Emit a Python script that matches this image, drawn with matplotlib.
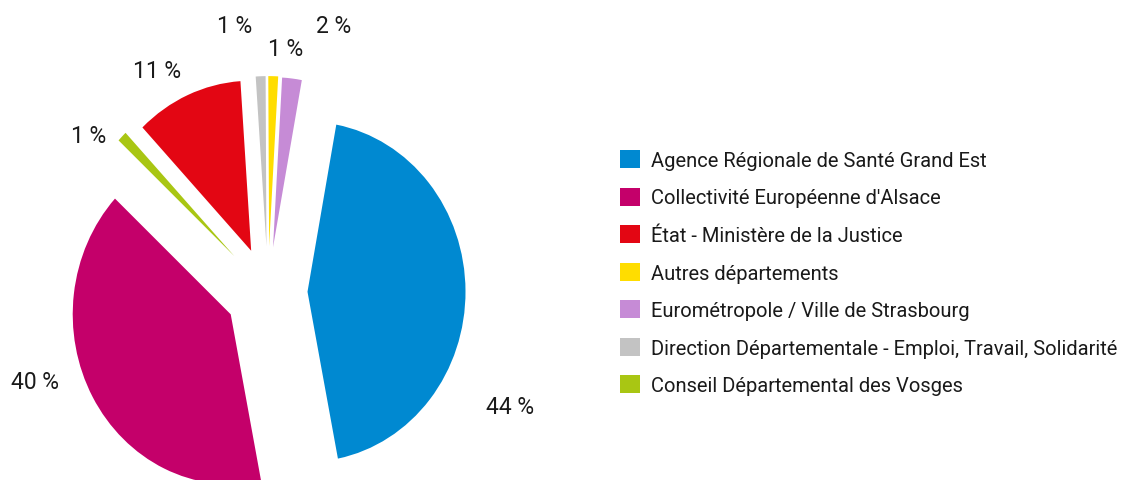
import matplotlib
matplotlib.use("Agg")
import matplotlib.pyplot as plt

# pie order (clockwise from the top)
names = [
    "Agence Régionale de Santé Grand Est",
    "Collectivité Européenne d'Alsace",
    "Conseil Départemental des Vosges",
    "État - Ministère de la Justice",
    "Direction Départementale - Emploi, Travail, Solidarité",
    "Autres départements",
    "Eurométropole / Ville de Strasbourg",
]
shares = [44, 40, 1, 11, 1, 1, 2]
pct_labels = ["44 %", "40 %", "1 %", "11 %", "1 %", "1 %", "2 %"]
colors = ["#0089d1", "#c4006a", "#a9c613", "#e30613", "#c3c3c3", "#ffdd00", "#c68bd6"]

# legend order
legend_order = [0, 1, 3, 5, 6, 4, 2]

# layout only
explode = [0.25, 0.27, 0.30, 0.265, 0.27, 0.27, 0.265]
label_pos = [(1.532, -0.676), (-1.475, -0.529), (-1.133, 0.918), (-0.703, 1.30),
             (-0.209, 1.565), (0.114, 1.435), (0.418, 1.565)]

fig = plt.figure(figsize=(11.24, 4.81), dpi=100)
ax = fig.add_axes([0, 0, 1, 1])

wedges, _ = ax.pie(shares, colors=colors, explode=explode, startangle=79.5,
                   counterclock=False, wedgeprops={"linewidth": 0})

# the original is a bit squeezed horizontally
ax.set_aspect("auto")
ax.set_xlim(-268 / 158, (1124 - 268) / 158)
ax.set_ylim(-(481 - 293) / 170, 293 / 170)
ax.axis("off")

for txt, (x, y) in zip(pct_labels, label_pos):
    ax.text(x, y, txt, ha="center", va="center", fontsize=16.5, color="#1a1a1a",
            family=["Roboto", "DejaVu Sans"])

fig.legend([wedges[i] for i in legend_order], [names[i] for i in legend_order],
           loc="upper left", bbox_to_anchor=(620 / 1124, 1 - 151 / 481),
           frameon=False, borderpad=0, borderaxespad=0,
           handlelength=1.0, handleheight=1.0, handletextpad=0.55,
           labelspacing=0.875, prop={"family": "Roboto", "size": 14.5},
           labelcolor="#1a1a1a")

fig.savefig("out.png", dpi=100)
